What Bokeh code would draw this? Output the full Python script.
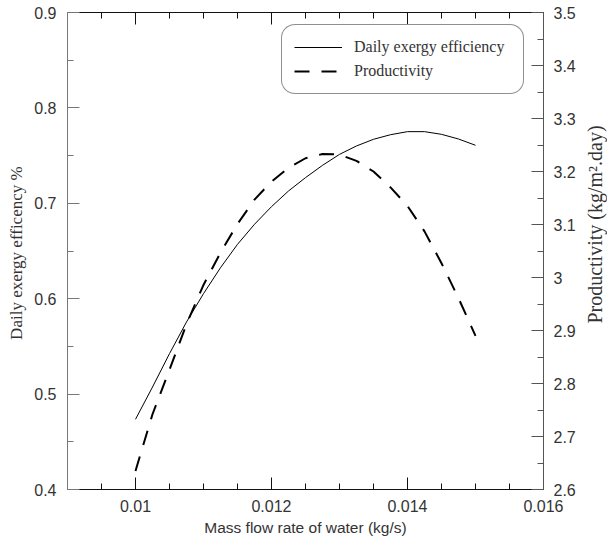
import math
from bokeh.plotting import figure
from bokeh.layouts import row
from bokeh.models import LinearAxis, Range1d, Legend, LegendItem, FixedTicker
from bokeh.core.properties import value
from bokeh.embed import file_html
from bokeh.resources import INLINE

# ---- data ----
mass_flow = [0.01000, 0.01025, 0.01050, 0.01075, 0.01100, 0.01125, 0.01150,
             0.01175, 0.01200, 0.01225, 0.01250, 0.01275, 0.01300, 0.01325,
             0.01350, 0.01375, 0.01400, 0.01425, 0.01450, 0.01475, 0.01500]
exergy_eff = [0.4736, 0.5074, 0.5424, 0.5756, 0.6053, 0.6325, 0.6570,
              0.6780, 0.6965, 0.7129, 0.7269, 0.7398, 0.7513, 0.7601,
              0.7671, 0.7719, 0.7751, 0.7751, 0.7723, 0.7674, 0.7608]
productivity = [2.635, 2.742, 2.826, 2.912, 2.986, 3.047, 3.101,
                3.147, 3.181, 3.207, 3.225, 3.233, 3.232, 3.220,
                3.200, 3.170, 3.135, 3.087, 3.027, 2.961, 2.890]

x_ticks = [0.010, 0.012, 0.014, 0.016]
x_tick_labels = ["0.01", "0.012", "0.014", "0.016"]
x_minor = [0.0095, 0.0105, 0.0110, 0.0115, 0.0125, 0.0130, 0.0135,
           0.0145, 0.0150, 0.0155]
y_ticks = [0.4, 0.5, 0.6, 0.7, 0.8, 0.9]
y_tick_labels = ["0.4", "0.5", "0.6", "0.7", "0.8", "0.9"]
y_minor = [0.45, 0.55, 0.65, 0.75, 0.85]
y2_ticks = [2.6, 2.7, 2.8, 2.9, 3.0, 3.1, 3.2, 3.3, 3.4, 3.5]
y2_tick_labels = ["2.6", "2.7", "2.8", "2.9", "3", "3.1", "3.2", "3.3", "3.4", "3.5"]
y2_minor = [2.65, 2.75, 2.85, 2.95, 3.05, 3.15, 3.25, 3.35, 3.45]

x_title = "Mass flow rate of water (kg/s)"
y_title = "Daily exergy efficency  %"
y2_title = "Productivity (kg/m\u00b2.day)"
legend_labels = ["Daily exergy efficiency", "Productivity"]

SANS = "Liberation Sans"
SERIF = "Liberation Serif"
H = 540

p = figure(width=583, height=H, output_backend="svg", toolbar_location=None,
           x_range=Range1d(0.009, 0.016), y_range=Range1d(0.4, 0.9),
           min_border_left=67, min_border_right=40, min_border_top=12,
           min_border_bottom=51, x_axis_location=None, y_axis_location=None)
p.extra_y_ranges = {"prod": Range1d(2.6, 3.5)}
p.grid.visible = False
p.outline_line_color = None
p.background_fill_color = "white"
p.border_fill_color = "white"


def style_axis(ax, line_color):
    ax.axis_line_color = line_color
    ax.axis_line_width = 1
    ax.major_tick_line_color = line_color
    ax.minor_tick_line_color = line_color
    ax.major_tick_in = 12
    ax.major_tick_out = 0
    ax.minor_tick_in = 6
    ax.minor_tick_out = 0
    ax.major_label_text_font = SANS
    ax.major_label_text_font_size = "16px"
    ax.major_label_text_color = "#333333"
    ax.axis_label_text_font_style = "normal"
    ax.axis_label_text_color = "#333333"


def overrides(ticks, labels):
    return {t: l for t, l in zip(ticks, labels)}


# bottom axis
xb = LinearAxis(ticker=FixedTicker(ticks=x_ticks, minor_ticks=x_minor),
                axis_label=x_title)
style_axis(xb, "#111111")
xb.major_label_overrides = overrides(x_ticks, x_tick_labels)
xb.major_label_standoff = 10
xb.axis_label_text_font = SANS
xb.axis_label_text_font_size = "15.5px"
xb.axis_label_standoff = 4
p.add_layout(xb, "below")

# top axis (ticks only)
xt = LinearAxis(ticker=FixedTicker(ticks=x_ticks, minor_ticks=x_minor))
style_axis(xt, "#111111")
xt.major_label_overrides = {t: "" for t in x_ticks}
xt.major_label_standoff = 0
p.add_layout(xt, "above")

# left axis
yl = LinearAxis(ticker=FixedTicker(ticks=y_ticks, minor_ticks=y_minor),
                axis_label=y_title)
style_axis(yl, "#777777")
yl.major_label_overrides = overrides(y_ticks, y_tick_labels)
yl.major_label_standoff = 11
yl.axis_label_text_font = SERIF
yl.axis_label_text_font_size = "17px"
yl.axis_label_standoff = 5
p.add_layout(yl, "left")

# right axis (its title is drawn in the narrow strip to the right)
yr = LinearAxis(y_range_name="prod",
                ticker=FixedTicker(ticks=y2_ticks, minor_ticks=y2_minor))
style_axis(yr, "#555555")
yr.major_label_overrides = overrides(y2_ticks, y2_tick_labels)
yr.major_label_standoff = 10
p.add_layout(yr, "right")

r1 = p.line(mass_flow, exergy_eff, line_color="black", line_width=1)
r2 = p.line(mass_flow, productivity, y_range_name="prod", line_color="black",
            line_width=2, line_dash="15 12")

legend = Legend(items=[LegendItem(label=legend_labels[0], renderers=[r1]),
                       LegendItem(label=legend_labels[1], renderers=[r2])],
                location=(214, 395))
legend.border_line_color = "#222222"
legend.border_line_width = 1
legend.background_fill_color = "white"
legend.background_fill_alpha = 1
legend.label_text_font = SERIF
legend.label_text_font_size = "16px"
legend.label_text_color = "#333333"
legend.glyph_width = 48
legend.glyph_height = 20
legend.label_height = 20
legend.label_width = 157
legend.label_standoff = 12
legend.spacing = 4
legend.padding = 12
legend.margin = 0
try:
    legend.border_radius = 14
except Exception:
    pass
p.add_layout(legend, "center")

# narrow strip holding the right-hand axis title, reading bottom-to-top
t = figure(width=24, height=H, output_backend="svg", toolbar_location=None,
           x_range=Range1d(0, 24), y_range=Range1d(H, 0),
           min_border=0, x_axis_location=None, y_axis_location=None)
t.grid.visible = False
t.outline_line_color = None
t.background_fill_color = "white"
t.border_fill_color = "white"
t.text(x=[11], y=[240], text=[y2_title], angle=math.pi / 2,
       text_align="center", text_baseline="middle",
       text_font=value(SERIF), text_font_size="20px", text_color="#333333")

layout = row(p, t, spacing=0)
open("out.html", "w").write(file_html(layout, INLINE))
